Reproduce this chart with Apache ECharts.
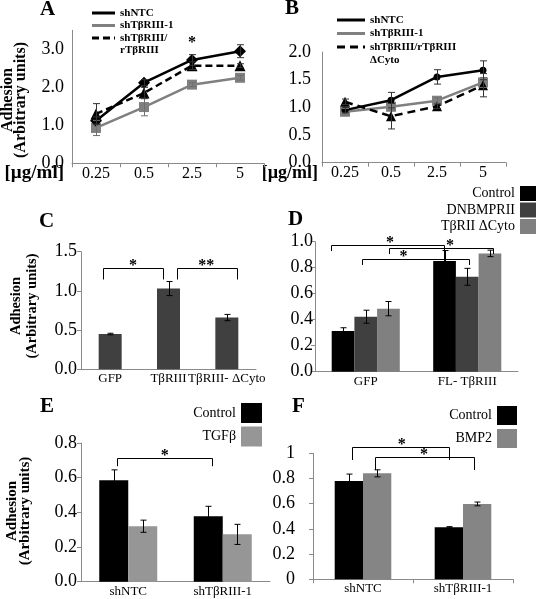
<!DOCTYPE html>
<html><head><meta charset="utf-8">
<script src="https://cdn.jsdelivr.net/npm/echarts@6/dist/echarts.min.js"></script>
<style>html,body{margin:0;padding:0;background:#fff;}#chart{width:536px;height:599px;}</style>
</head><body><div id="chart"></div>
<script>
// ---------------- data ----------------
const doseLabels = ['0.25', '0.5', '2.5', '5'];

const aShNTC = [1.12, 2.12, 2.72, 2.95];
const aShNTCErr = [0.1, 0.08, 0.14, 0.17];
const aShTbRIII = [0.93, 1.48, 2.07, 2.25];
const aShTbRIIIErr = [0.2, 0.23, 0.05, 0.06];
const aRescue = [1.3, 1.85, 2.57, 2.57];
const aRescueErr = [0.27, 0.15, 0.1, 0.05];
const aStars = [[2, 3.17]];

const bShNTC = [0.95, 1.13, 1.55, 1.67];
const bShNTCErr = [0.05, 0.14, 0.13, 0.17];
const bShTbRIII = [0.92, 1.01, 1.12, 1.45];
const bShTbRIIIErr = [0.06, 0.06, 0.05, 0.09];
const bDeltaCyto = [1.1, 0.84, 1.02, 1.4];
const bDeltaCytoErr = [0.05, 0.23, 0.04, 0.21];

const cCats = ['GFP', 'TβRIII', 'TβRIII- ΔCyto'];
const cVals = [0.45, 1.03, 0.66];
const cErr = [0.01, 0.09, 0.04];
// [catA, fracA, catB, fracB, yTop, yLegA, yLegB, starCat, starFrac]
const cBrackets = [[0, -0.115, 1, -0.096, 1.294, 1.146, 1.146, 0, 0.39],
                   [1, 0.154, 2, 0.171, 1.294, 1.146, 1.146, 1, 0.647]];
const cStars = ['*', '**'];

const dCats = ['GFP', 'FL- TβRIII'];
const dControl = [0.313, 0.852];
const dControlErr = [0.025, 0.08];
const dDNBMPRII = [0.423, 0.73];
const dDNBMPRIIErr = [0.05, 0.065];
const dDeltaCyto = [0.485, 0.91];
const dDeltaCytoErr = [0.055, 0.025];
const dBrackets = [[0, -0.343, 1, -0.227, 0.975, 0.928, 0.852, 0, 0.238],
                   [0, 0.232, 1, 0.249, 0.949, 0.905, 0.905, 1, -0.17],
                   [0, -0.041, 1, 0.013, 0.867, 0.821, 0.821, 0, 0.372]];
const dStars = ['*', '*', '*'];

const eCats = ['shNTC', 'shTβRIII-1'];
const eControl = [0.585, 0.378];
const eControlErr = [0.06, 0.057];
const eTGFb = [0.32, 0.273];
const eTGFbErr = [0.035, 0.058];
const eBrackets = [[0, -0.115, 1, -0.115, 0.712, 0.666, 0.666, 0, 0.385]];
const eStars = ['*'];

const fCats = ['shNTC', 'shTβRIII-1'];
const fControl = [0.78, 0.413];
const fControlErr = [0.055, 0.005];
const fBMP2 = [0.841, 0.598];
const fBMP2Err = [0.028, 0.015];
const fBrackets = [[0, -0.107, 1, -0.137, 1.048, 0.947, 0.947, 0, 0.387],
                   [0, 0.12, 1, 0.11, 0.968, 0.867, 0.867, 0, 0.61]];
const fStars = ['*', '*'];

// ---------------- helpers ----------------
const SERIF = '"Liberation Serif","Times New Roman",serif';
const AXIS_COLOR = '#8a8a8a';

function errSeries(idx, vals, errs, color, offset, cap) {
  return {
    type: 'custom', xAxisIndex: idx, yAxisIndex: idx, z: 10, silent: true,
    data: vals.map((v, i) => [i, v - errs[i], v + errs[i]]),
    encode: { x: 0, y: [1, 2] },
    renderItem: function (params, api) {
      const lo = api.coord([api.value(0), api.value(1)]);
      const hi = api.coord([api.value(0), api.value(2)]);
      const x = Math.round(lo[0] + offset) + 0.5, h = cap / 2;
      const st = { stroke: color, lineWidth: 1 };
      return { type: 'group', children: [
        { type: 'line', shape: { x1: x, y1: hi[1], x2: x, y2: lo[1] }, style: st },
        { type: 'line', shape: { x1: x - h, y1: hi[1], x2: x + h, y2: hi[1] }, style: st },
        { type: 'line', shape: { x1: x - h, y1: lo[1], x2: x + h, y2: lo[1] }, style: st }
      ]};
    }
  };
}

function bracketSeries(idx, brackets, stars, starSize) {
  return {
    type: 'custom', xAxisIndex: idx, yAxisIndex: idx, z: 11, silent: true,
    data: brackets, encode: { x: 0, y: 4 },
    renderItem: function (params, api) {
      const band = api.size([1, 0])[0];
      const px = (c, f) => api.coord([c, 0])[0] + f * band;
      const py = v => api.coord([0, v])[1];
      const xa = Math.round(px(api.value(0), api.value(1))) + 0.5;
      const xb = Math.round(px(api.value(2), api.value(3))) + 0.5;
      const yt = Math.round(py(api.value(4))) + 0.5;
      const ya = py(api.value(5)), yb = py(api.value(6));
      const xs = px(api.value(7), api.value(8));
      return { type: 'group', children: [
        { type: 'polyline', shape: { points: [[xa, ya], [xa, yt], [xb, yt], [xb, yb]] },
          style: { stroke: '#000', lineWidth: 1, fill: null } },
        { type: 'text', style: { text: stars[params.dataIndex], x: xs, y: yt - 3,
          align: 'center', verticalAlign: 'middle', textAlign: 'center', textVerticalAlign: 'middle',
          font: 'bold ' + starSize + 'px ' + SERIF, fill: '#000' } }
      ]};
    }
  };
}

function starSeries(idx, pts) {
  return {
    type: 'custom', xAxisIndex: idx, yAxisIndex: idx, z: 11, silent: true,
    data: pts, encode: { x: 0, y: 1 },
    renderItem: function (params, api) {
      const p = api.coord([api.value(0), api.value(1)]);
      return { type: 'text', style: { text: '*', x: p[0], y: p[1], align: 'center', verticalAlign: 'middle',
        textAlign: 'center', textVerticalAlign: 'middle', font: 'bold 16px ' + SERIF, fill: '#000' } };
    }
  };
}

function catAxis(gi, data, extra) {
  return Object.assign({
    type: 'category', gridIndex: gi, data: data,
    axisLine: { lineStyle: { color: AXIS_COLOR, width: 1 } },
    axisTick: { show: false },
    axisLabel: { color: '#000', fontFamily: SERIF, fontSize: 13, margin: 3, interval: 0 }
  }, extra || {});
}

function valAxis(gi, max, interval, extra, labelExtra) {
  return Object.assign({
    type: 'value', gridIndex: gi, min: 0, max: max, interval: interval,
    splitLine: { show: false },
    axisLine: { show: true, lineStyle: { color: AXIS_COLOR, width: 1 } },
    axisTick: { show: true, length: 4, lineStyle: { color: AXIS_COLOR } },
    axisLabel: Object.assign({ color: '#000', fontFamily: SERIF, fontSize: 18, margin: 4,
      formatter: v => v.toFixed(1) }, labelExtra || {})
  }, extra || {});
}

const yName = 'Adhesion\n(Arbitrary units)';
function yNameText(cx, cy, size, lh) {
  return { type: 'text', x: cx, y: cy, rotation: Math.PI / 2,
    style: { text: yName, font: 'bold ' + size + 'px ' + SERIF, lineHeight: lh, fill: '#000',
      align: 'center', textAlign: 'center', verticalAlign: 'middle', textVerticalAlign: 'middle' } };
}

const titleStyle = { fontFamily: SERIF, fontWeight: 'bold', fontSize: 21, color: '#000' };
const legendFont = 'bold 11px ' + SERIF;
const unitFont = 'bold 19px ' + SERIF;

function legText(x, y, t) {
  return { type: 'text', x: x, y: y, style: { text: t, font: legendFont, fill: '#000', textVerticalAlign: 'middle', verticalAlign: 'middle' } };
}

const option = {
  animation: false,
  backgroundColor: '#fff',
  title: [
    { text: 'A', left: 40, top: -1, padding: 0, textStyle: titleStyle },
    { text: 'B', left: 285, top: -2, padding: 0, textStyle: titleStyle },
    { text: 'C', left: 39, top: 211, padding: 0, textStyle: titleStyle },
    { text: 'D', left: 288, top: 209, padding: 0, textStyle: titleStyle },
    { text: 'E', left: 40, top: 396, padding: 0, textStyle: titleStyle },
    { text: 'F', left: 292, top: 396, padding: 0, textStyle: titleStyle }
  ],
  grid: [
    { left: 72, top: 30.3, width: 192, height: 133 },
    { left: 322, top: 52, width: 184, height: 110.7 },
    { left: 81, top: 251.7, width: 175, height: 117.6 },
    { left: 315, top: 241.7, width: 203, height: 130 },
    { left: 81, top: 443, width: 189, height: 138.7 },
    { left: 313, top: 453.3, width: 200, height: 126 }
  ],
  xAxis: [
    catAxis(0, doseLabels, {
      axisTick: { show: true, length: 4, lineStyle: { color: AXIS_COLOR } },
      axisLabel: { color: '#000', fontFamily: SERIF, fontSize: 16, margin: 2, interval: 0 }
    }),
    catAxis(1, doseLabels, {
      axisTick: { show: true, length: 4, lineStyle: { color: AXIS_COLOR } },
      axisLabel: { color: '#000', fontFamily: SERIF, fontSize: 16, margin: 2, interval: 0 }
    }),
    catAxis(2, cCats),
    catAxis(3, dCats),
    catAxis(4, eCats),
    catAxis(5, fCats, { axisTick: { show: true, length: 4, lineStyle: { color: AXIS_COLOR } } })
  ],
  yAxis: [
    valAxis(0, 3.5, 1, { axisTick: { show: false } }, { margin: 8, showMaxLabel: false }),
    valAxis(1, 2, 0.5, { axisTick: { show: false } }, { margin: 11 }),
    valAxis(2, 1.5, 0.5, {}, { margin: 4 }),
    valAxis(3, 1, 0.2, {}, { margin: 2 }),
    valAxis(4, 0.8, 0.2, {}, { margin: 4 }),
    valAxis(5, 1, 0.2, {}, { margin: 18, formatter: v => String(+v.toFixed(1)) })
  ],
  legend: [
    { orient: 'vertical', right: 0, top: 186, itemWidth: 16, itemHeight: 15, itemGap: 1.5, align: 'right',
      icon: 'rect', padding: 0, selectedMode: false,
      data: ['Control', 'DNBMPRII', 'TβRII ΔCyto'],
      textStyle: { fontFamily: SERIF, fontSize: 14, color: '#000' } },
    { orient: 'vertical', right: 274, top: 403, itemWidth: 21, itemHeight: 20, itemGap: 3.5, align: 'right',
      icon: 'rect', padding: 0, selectedMode: false,
      data: ['Control', 'TGFβ'],
      textStyle: { fontFamily: SERIF, fontSize: 14, color: '#000' } },
    { orient: 'vertical', right: 19, top: 406, itemWidth: 20, itemHeight: 19, itemGap: 4, align: 'right',
      icon: 'rect', padding: 0, selectedMode: false,
      data: ['Control', 'BMP2'],
      textStyle: { fontFamily: SERIF, fontSize: 14, color: '#000' } }
  ],
  graphic: [
    // y-axis titles
    yNameText(14, 100, 16, 13),
    yNameText(24, 306, 14.5, 16),
    yNameText(19, 511, 15, 13),
    // dose unit labels
    { type: 'text', x: 64, y: 173, style: { text: '[µg/ml]', font: unitFont, fill: '#000', align: 'right', textAlign: 'right', verticalAlign: 'middle', textVerticalAlign: 'middle' } },
    { type: 'text', x: 318, y: 173, style: { text: '[µg/ml]', font: 'bold 18px ' + SERIF, fill: '#000', align: 'right', textAlign: 'right', verticalAlign: 'middle', textVerticalAlign: 'middle' } },
    // panel A legend
    { type: 'line', shape: { x1: 92, y1: 13, x2: 115, y2: 13 }, style: { stroke: '#000', lineWidth: 3 } },
    legText(120, 13, 'shNTC'),
    { type: 'line', shape: { x1: 92, y1: 25.5, x2: 115, y2: 25.5 }, style: { stroke: '#808080', lineWidth: 3 } },
    legText(120, 25.5, 'shTβRIII-1'),
    { type: 'line', shape: { x1: 92, y1: 38, x2: 115, y2: 38 }, style: { stroke: '#000', lineWidth: 3, lineDash: [7, 4] } },
    legText(120, 38, 'shTβRIII/'),
    legText(120, 50.5, 'rTβRIII'),
    // panel B legend
    { type: 'line', shape: { x1: 337, y1: 20, x2: 365, y2: 20 }, style: { stroke: '#000', lineWidth: 3 } },
    legText(370, 20, 'shNTC'),
    { type: 'line', shape: { x1: 337, y1: 33.5, x2: 365, y2: 33.5 }, style: { stroke: '#808080', lineWidth: 3 } },
    legText(370, 33.5, 'shTβRIII-1'),
    { type: 'line', shape: { x1: 337, y1: 47, x2: 365, y2: 47 }, style: { stroke: '#000', lineWidth: 3, lineDash: [8, 5] } },
    legText(370, 47, 'shTβRIII/rTβRIII'),
    legText(370, 60, 'ΔCyto')
  ],
  series: [
    // ---- A ----
    { type: 'line', name: 'shTβRIII-1', xAxisIndex: 0, yAxisIndex: 0, data: aShTbRIII, symbol: 'rect', symbolSize: 10,
      lineStyle: { color: '#808080', width: 2.5 }, itemStyle: { color: '#808080' }, z: 2 },
    { type: 'line', name: 'shTβRIII/rTβRIII', xAxisIndex: 0, yAxisIndex: 0, data: aRescue, symbol: 'triangle', symbolSize: 11,
      lineStyle: { color: '#000', width: 2.5, type: [7, 4] }, itemStyle: { color: '#000' }, z: 3 },
    { type: 'line', name: 'shNTC', xAxisIndex: 0, yAxisIndex: 0, data: aShNTC, symbol: 'diamond', symbolSize: 12,
      lineStyle: { color: '#000', width: 2.5 }, itemStyle: { color: '#000' }, z: 4 },
    errSeries(0, aShTbRIII, aShTbRIIIErr, '#707070', 0, 7),
    errSeries(0, aRescue, aRescueErr, '#333', 0, 7),
    errSeries(0, aShNTC, aShNTCErr, '#333', 0, 7),
    starSeries(0, aStars),
    // ---- B ----
    { type: 'line', name: 'shTβRIII-1 B', xAxisIndex: 1, yAxisIndex: 1, data: bShTbRIII, symbol: 'rect', symbolSize: 10,
      lineStyle: { color: '#808080', width: 2.5 }, itemStyle: { color: '#808080' }, z: 2 },
    { type: 'line', name: 'ΔCyto B', xAxisIndex: 1, yAxisIndex: 1, data: bDeltaCyto, symbol: 'triangle', symbolSize: 10,
      lineStyle: { color: '#000', width: 2.5, type: [8, 5] }, itemStyle: { color: '#000' }, z: 3 },
    { type: 'line', name: 'shNTC B', xAxisIndex: 1, yAxisIndex: 1, data: bShNTC, symbol: 'circle', symbolSize: 7,
      lineStyle: { color: '#000', width: 2.5 }, itemStyle: { color: '#000' }, z: 4 },
    errSeries(1, bShTbRIII, bShTbRIIIErr, '#707070', 0, 7),
    errSeries(1, bDeltaCyto, bDeltaCytoErr, '#333', 0, 7),
    errSeries(1, bShNTC, bShNTCErr, '#333', 0, 7),
    // ---- C ----
    { type: 'bar', name: 'C', xAxisIndex: 2, yAxisIndex: 2, data: cVals, barWidth: 23, itemStyle: { color: '#404040' } },
    errSeries(2, cVals, cErr, '#000', 0, 6),
    bracketSeries(2, cBrackets, cStars, 16),
    // ---- D ----
    { type: 'bar', name: 'Control', xAxisIndex: 3, yAxisIndex: 3, data: dControl, barWidth: 22.7, barGap: '0%', itemStyle: { color: '#000' } },
    { type: 'bar', name: 'DNBMPRII', xAxisIndex: 3, yAxisIndex: 3, data: dDNBMPRII, barWidth: 22.7, barGap: '0%', itemStyle: { color: '#404040' } },
    { type: 'bar', name: 'TβRII ΔCyto', xAxisIndex: 3, yAxisIndex: 3, data: dDeltaCyto, barWidth: 22.7, barGap: '0%', itemStyle: { color: '#808080' } },
    errSeries(3, dControl, dControlErr, '#000', -22.7, 6),
    errSeries(3, dDNBMPRII, dDNBMPRIIErr, '#000', 0, 6),
    errSeries(3, dDeltaCyto, dDeltaCytoErr, '#000', 22.7, 6),
    bracketSeries(3, dBrackets, dStars, 16),
    // ---- E ----
    { type: 'bar', name: 'Control', xAxisIndex: 4, yAxisIndex: 4, data: eControl, barWidth: 29, barGap: '0%', itemStyle: { color: '#000' } },
    { type: 'bar', name: 'TGFβ', xAxisIndex: 4, yAxisIndex: 4, data: eTGFb, barWidth: 29, barGap: '0%', itemStyle: { color: '#969696' } },
    errSeries(4, eControl, eControlErr, '#000', -14.5, 6),
    errSeries(4, eTGFb, eTGFbErr, '#000', 14.5, 6),
    bracketSeries(4, eBrackets, eStars, 16),
    // ---- F ----
    { type: 'bar', name: 'Control', xAxisIndex: 5, yAxisIndex: 5, data: fControl, barWidth: 28.3, barGap: '0%', itemStyle: { color: '#000' } },
    { type: 'bar', name: 'BMP2', xAxisIndex: 5, yAxisIndex: 5, data: fBMP2, barWidth: 28.3, barGap: '0%', itemStyle: { color: '#858585' } },
    errSeries(5, fControl, fControlErr, '#000', -14.15, 6),
    errSeries(5, fBMP2, fBMP2Err, '#000', 14.15, 6),
    bracketSeries(5, fBrackets, fStars, 16)
  ]
};

const chart = echarts.init(document.getElementById('chart'));
chart.setOption(option);
</script>
</body></html>
